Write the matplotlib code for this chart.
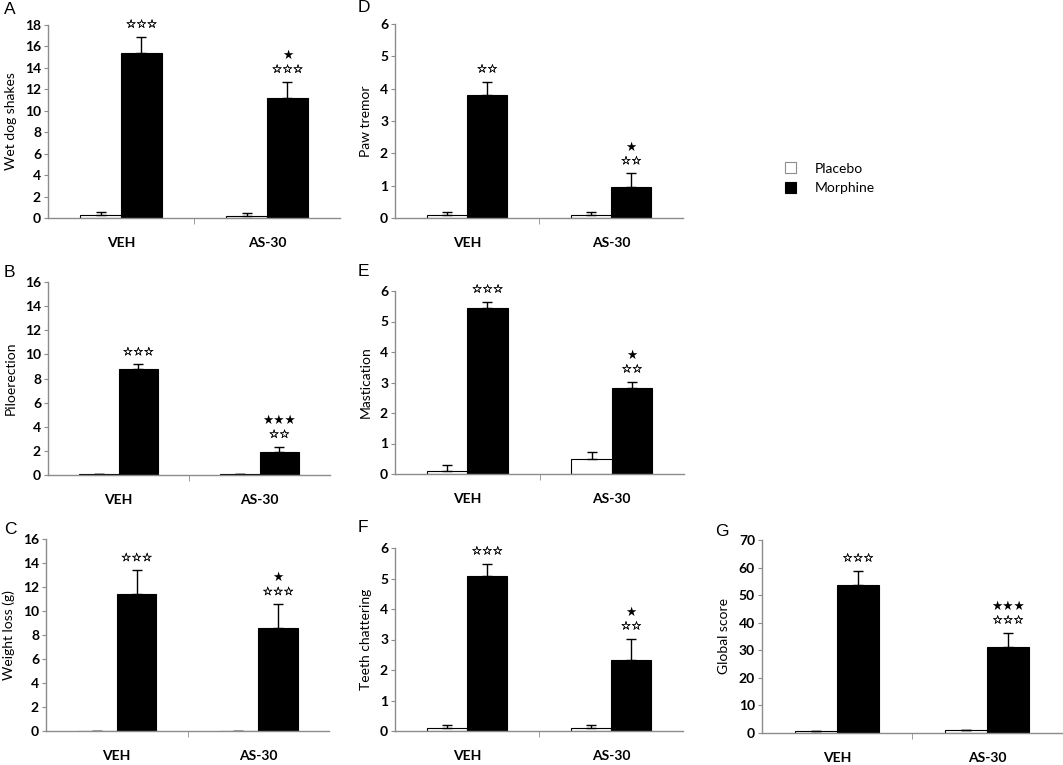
import matplotlib
matplotlib.use("Agg")
import matplotlib.pyplot as plt
import matplotlib.patheffects as pe

# ---------------- data ----------------
groups = ["VEH", "AS-30"]
series = ["Placebo", "Morphine"]

wds_placebo = [0.28, 0.19]
wds_placebo_err = [0.31, 0.24]
wds_morphine = [15.4, 11.15]
wds_morphine_err = [1.5, 1.55]

pilo_placebo = [0.05, 0.05]
pilo_placebo_err = [0.03, 0.03]
pilo_morphine = [8.77, 1.93]
pilo_morphine_err = [0.4, 0.4]

wl_placebo = [0.03, 0.03]
wl_placebo_err = [0.0, 0.0]
wl_morphine = [11.4, 8.6]
wl_morphine_err = [2.0, 1.97]

paw_placebo = [0.09, 0.09]
paw_placebo_err = [0.1, 0.1]
paw_morphine = [3.8, 0.97]
paw_morphine_err = [0.42, 0.41]

mast_placebo = [0.11, 0.5]
mast_placebo_err = [0.17, 0.22]
mast_morphine = [5.43, 2.81]
mast_morphine_err = [0.22, 0.22]

teeth_placebo = [0.11, 0.1]
teeth_placebo_err = [0.09, 0.09]
teeth_morphine = [5.07, 2.32]
teeth_morphine_err = [0.42, 0.71]

glob_placebo = [0.6, 1.0]
glob_placebo_err = [0.0, 0.0]
glob_morphine = [53.5, 31.1]
glob_morphine_err = [5.4, 5.3]

# significance markers above morphine bars: (hollow count, filled count)
wds_sig = [(3, 0), (3, 1)]
pilo_sig = [(3, 0), (2, 3)]
wl_sig = [(3, 0), (3, 1)]
paw_sig = [(2, 0), (2, 1)]
mast_sig = [(3, 0), (2, 1)]
teeth_sig = [(3, 0), (2, 1)]
glob_sig = [(3, 0), (3, 3)]

# ---------------- style ----------------
TICK_FONT = "Lato"
GRAY = "#8c8c8c"

fig = plt.figure(figsize=(10.63, 7.65), dpi=100)

panels = [
    ("A", "Wet dog shakes", wds_placebo, wds_placebo_err, wds_morphine, wds_morphine_err, wds_sig, 18, 2,
     (48, 340, 25, 218), (4, 9)),
    ("B", "Piloerection", pilo_placebo, pilo_placebo_err, pilo_morphine, pilo_morphine_err, pilo_sig, 16, 2,
     (48, 330, 282, 475), (4, 272)),
    ("C", "Weight loss (g)", wl_placebo, wl_placebo_err, wl_morphine, wl_morphine_err, wl_sig, 16, 2,
     (46, 329, 539, 731), (4, 530)),
    ("D", "Paw tremor", paw_placebo, paw_placebo_err, paw_morphine, paw_morphine_err, paw_sig, 6, 1,
     (395, 683, 24, 218), (358, 8)),
    ("E", "Mastication", mast_placebo, mast_placebo_err, mast_morphine, mast_morphine_err, mast_sig, 6, 1,
     (395, 684, 291, 474), (358, 271)),
    ("F", "Teeth chattering", teeth_placebo, teeth_placebo_err, teeth_morphine, teeth_morphine_err, teeth_sig, 6, 1,
     (395, 683, 548, 731), (358, 528)),
    ("G", "Global score", glob_placebo, glob_placebo_err, glob_morphine, glob_morphine_err, glob_sig, 70, 10,
     (762, 1062, 540, 733), (715, 531)),
]

W, H = 1063.0, 765.0
bw = 0.28
handles = None
star_fx = [pe.withStroke(linewidth=0.25, foreground="black")]
for (letter, ylabel, pl, ple, mo, moe, sig, ymax, ystep, rect, lpos) in panels:
    l, r, t, b = rect
    ax = fig.add_axes([l / W, 1 - b / H, (r - l) / W, (b - t) / H])
    x = list(range(len(groups)))
    xp = [xi - bw / 2 for xi in x]
    xm = [xi + bw / 2 for xi in x]
    ekw = dict(ecolor="black", elinewidth=1.0, capsize=3.5, capthick=1.0)
    h1 = ax.bar(xp, pl, width=bw, color="white", edgecolor="black", linewidth=0.8,
                yerr=[[0] * len(pl), ple], error_kw=ekw)
    h2 = ax.bar(xm, mo, width=bw, color="black", edgecolor="black", linewidth=0.8,
                yerr=[[0] * len(mo), moe], error_kw=ekw)
    if handles is None:
        handles = [h1, h2]
    ax.set_xlim(-0.5, len(groups) - 0.5)
    ax.set_ylim(0, ymax)
    ax.set_yticks(range(0, ymax + 1, ystep))
    ax.set_yticklabels([str(v) for v in range(0, ymax + 1, ystep)],
                       fontfamily=TICK_FONT, fontweight="bold", fontsize=10)
    ax.set_xticks(x)
    ax.set_xticklabels(groups, fontfamily=TICK_FONT, fontweight="bold", fontsize=10)
    ax.tick_params(axis="x", which="major", length=0, pad=14)
    ax.set_xticks([0.5], minor=True)
    ax.tick_params(axis="x", which="minor", length=4, color=GRAY, direction="out")
    ax.tick_params(axis="y", length=3, color=GRAY, direction="out", pad=2)
    for s in ["top", "right"]:
        ax.spines[s].set_visible(False)
    for s in ["left", "bottom"]:
        ax.spines[s].set_color(GRAY)
        ax.spines[s].set_linewidth(1.0)
    ax.set_ylabel(ylabel, fontfamily=TICK_FONT, fontsize=10, labelpad=6)
    fig.text(lpos[0] / W, 1 - lpos[1] / H, letter, fontfamily="Liberation Sans", fontsize=12.5,
             va="center", ha="left")
    for i in range(len(groups)):
        top = mo[i] + moe[i]
        nh, nf = sig[i]
        if nh:
            ax.annotate("\u2606" * nh, (xm[i], top), xytext=(0, 9), textcoords="offset points",
                        ha="center", va="center", fontsize=8.4, fontfamily="DejaVu Sans",
                        path_effects=star_fx)
        if nf:
            ax.annotate("\u2605" * nf, (xm[i], top), xytext=(0, 19), textcoords="offset points",
                        ha="center", va="center", fontsize=9, fontfamily="DejaVu Sans")

leg = fig.legend(handles, series, loc="upper left", bbox_to_anchor=(772 / W, 1 - 150 / H),
                 frameon=False, prop=dict(family=TICK_FONT, size=10), handlelength=0.85, handleheight=0.8,
                 handletextpad=1.3, labelspacing=0.55)
for hnd in leg.legend_handles:
    hnd.set_edgecolor(GRAY if hnd.get_facecolor()[0] > 0.5 else "black")

fig.savefig("out.png", dpi=100)
